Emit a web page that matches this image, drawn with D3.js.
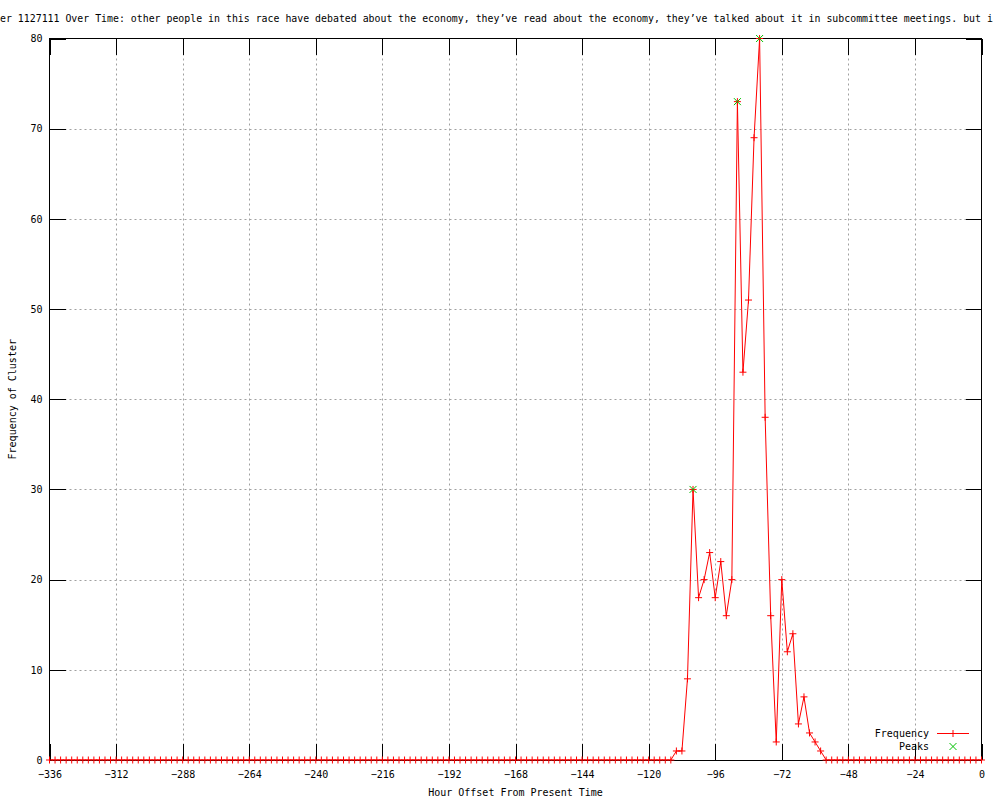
<!DOCTYPE html>
<html>
<head>
<meta charset="utf-8">
<script src="https://cdn.jsdelivr.net/npm/d3@7"></script>
<style>
	body { margin: 0; background: #fff; }
	svg { display: block; font-family: 'DejaVu Sans Mono', monospace; font-size: 10px; }
	.grid line { stroke: #a0a0a0; stroke-dasharray: 2,3; }
	.axis path { display: none; }
	.axis line { stroke: #000; }
	.axis text { fill: #000; font-family: 'DejaVu Sans Mono', monospace; font-size: 10px; }
</style>
</head>
<body>
<script>

const titleText = 'Frequency of Cluster 1127111 Over Time: other people in this race have debated about the economy, they\u2019ve read about the economy, they\u2019ve talked about it in subcommittee meetings. but i';

// one value every 2 hours, from -336 to 0
const hours = d3.range(-336, 1, 2);
const frequency = [
	0, 0, 0, 0, 0, 0, 0, 0, 0, 0,       // -336 .. -318
	0, 0, 0, 0, 0, 0, 0, 0, 0, 0,       // -316 .. -298
	0, 0, 0, 0, 0, 0, 0, 0, 0, 0,       // -296 .. -278
	0, 0, 0, 0, 0, 0, 0, 0, 0, 0,       // -276 .. -258
	0, 0, 0, 0, 0, 0, 0, 0, 0, 0,       // -256 .. -238
	0, 0, 0, 0, 0, 0, 0, 0, 0, 0,       // -236 .. -218
	0, 0, 0, 0, 0, 0, 0, 0, 0, 0,       // -216 .. -198
	0, 0, 0, 0, 0, 0, 0, 0, 0, 0,       // -196 .. -178
	0, 0, 0, 0, 0, 0, 0, 0, 0, 0,       // -176 .. -158
	0, 0, 0, 0, 0, 0, 0, 0, 0, 0,       // -156 .. -138
	0, 0, 0, 0, 0, 0, 0, 0, 0, 0,       // -136 .. -118
	0, 0, 0, 1, 1, 9, 30, 18, 20, 23,   // -116 .. -98
	18, 22, 16, 20, 73, 43, 51, 69, 80, 38, // -96 .. -78
	16, 2, 20, 12, 14, 4, 7, 3, 2, 1,   // -76 .. -58
	0, 0, 0, 0, 0, 0, 0, 0, 0, 0,       // -56 .. -38
	0, 0, 0, 0, 0, 0, 0, 0, 0, 0,       // -36 .. -18
	0, 0, 0, 0, 0, 0, 0, 0, 0           // -16 .. 0
];

const peakHours = [-104, -88, -80];
const peakValues = [30, 73, 80];

const xTicks = [-336, -312, -288, -264, -240, -216, -192, -168, -144, -120, -96, -72, -48, -24, 0];
const yTicks = [0, 10, 20, 30, 40, 50, 60, 70, 80];

chart();

function chart() {

	const width = 1000;
	const height = 800;
	const left = 49.5, right = 981.5, top = 38.5, bottom = 760;

	const dataset = hours.map((h, i) => [h, frequency[i]]);
	const peaks = peakHours.map((h, i) => [h, peakValues[i]]);

	const xScale = d3.scaleLinear()
						.domain([-336, 0])
						.range([left, right]);
	const yScale = d3.scaleLinear()
						.domain([0, 80])
						.range([bottom, top]);

	const svg = d3.select('body')
					.append('svg')
					.attr('width', width)
					.attr('height', height);

	// title (too long for the page, clipped at both sides like the original)
	svg.append('text')
		.attr('x', -107)
		.attr('y', 22)
		.style('font-size', '9.88px')
		.text(titleText);

	// grid
	svg.append('g')
		.attr('class', 'grid')
		.selectAll('line.v')
		.data(xTicks.slice(1, -1))
		.enter()
		.append('line')
		.attr('x1', d => Math.round(xScale(d)) + 0.5)
		.attr('x2', d => Math.round(xScale(d)) + 0.5)
		.attr('y1', top)
		.attr('y2', bottom);

	svg.select('g.grid')
		.selectAll('line.h')
		.data(yTicks.slice(1, -1))
		.enter()
		.append('line')
		.attr('x1', left)
		.attr('x2', right)
		.attr('y1', d => Math.round(yScale(d)) + 0.5)
		.attr('y2', d => Math.round(yScale(d)) + 0.5);

	// the frequency line
	const line = d3.line()
					.x(d => xScale(d[0]))
					.y(d => yScale(d[1]));

	svg.append('path')
		.datum(dataset)
		.attr('fill', 'none')
		.attr('stroke', '#ff0000')
		.attr('stroke-width', 1)
		.attr('d', line);

	// axes, ticks pointing inward
	svg.append('g')
		.attr('class', 'axis')
		.attr('transform', 'translate(0,' + bottom + ')')
		.call(d3.axisBottom(xScale).tickValues(xTicks).tickSize(-16).tickPadding(11));

	svg.append('g')
		.attr('class', 'axis')
		.attr('transform', 'translate(0,' + top + ')')
		.call(d3.axisTop(xScale).tickValues(xTicks).tickSize(-16).tickFormat(''));

	svg.append('g')
		.attr('class', 'axis')
		.attr('transform', 'translate(' + left + ',0)')
		.call(d3.axisLeft(yScale).tickValues(yTicks).tickSize(-16).tickPadding(7));

	svg.append('g')
		.attr('class', 'axis')
		.attr('transform', 'translate(' + right + ',0)')
		.call(d3.axisRight(yScale).tickValues(yTicks).tickSize(-16).tickFormat(''));

	svg.selectAll('g.axis .tick line')
		.attr('shape-rendering', 'crispEdges');

	// border
	svg.append('rect')
		.attr('x', left)
		.attr('y', top)
		.attr('width', right - left)
		.attr('height', bottom - top)
		.attr('fill', 'none')
		.attr('stroke', '#000')
		.attr('shape-rendering', 'crispEdges');

	// + markers on every point
	const plus = 'M-3.5,0H3.5M0,-3.5V3.5';
	const cross = 'M-3.5,-3.5L3.5,3.5M-3.5,3.5L3.5,-3.5';

	svg.append('g')
		.selectAll('path')
		.data(dataset)
		.enter()
		.append('path')
		.attr('transform', d => 'translate(' + xScale(d[0]) + ',' + yScale(d[1]) + ')')
		.attr('d', plus)
		.attr('stroke', '#ff0000')
		.attr('fill', 'none');

	// peaks
	svg.append('g')
		.selectAll('path')
		.data(peaks)
		.enter()
		.append('path')
		.attr('transform', d => 'translate(' + xScale(d[0]) + ',' + yScale(d[1]) + ')')
		.attr('d', cross)
		.attr('stroke', '#00c000')
		.attr('fill', 'none');

	// axis labels
	svg.append('text')
		.attr('text-anchor', 'middle')
		.attr('transform', 'translate(16,' + ((top + bottom) / 2) + ') rotate(-90)')
		.text('Frequency of Cluster');

	svg.append('text')
		.attr('text-anchor', 'middle')
		.attr('x', (left + right) / 2)
		.attr('y', 796)
		.text('Hour Offset From Present Time');

	// legend
	const legend = svg.append('g');

	legend.append('text')
		.attr('x', 929)
		.attr('y', 737)
		.attr('text-anchor', 'end')
		.text('Frequency');

	legend.append('line')
		.attr('x1', 937)
		.attr('x2', 969)
		.attr('y1', 733.5)
		.attr('y2', 733.5)
		.attr('stroke', '#ff0000');

	legend.append('path')
		.attr('transform', 'translate(953,733.5)')
		.attr('d', plus)
		.attr('stroke', '#ff0000');

	legend.append('text')
		.attr('x', 929)
		.attr('y', 750)
		.attr('text-anchor', 'end')
		.text('Peaks');

	legend.append('path')
		.attr('transform', 'translate(953,746.5)')
		.attr('d', cross)
		.attr('stroke', '#00c000');

}

</script>
</body>
</html>
